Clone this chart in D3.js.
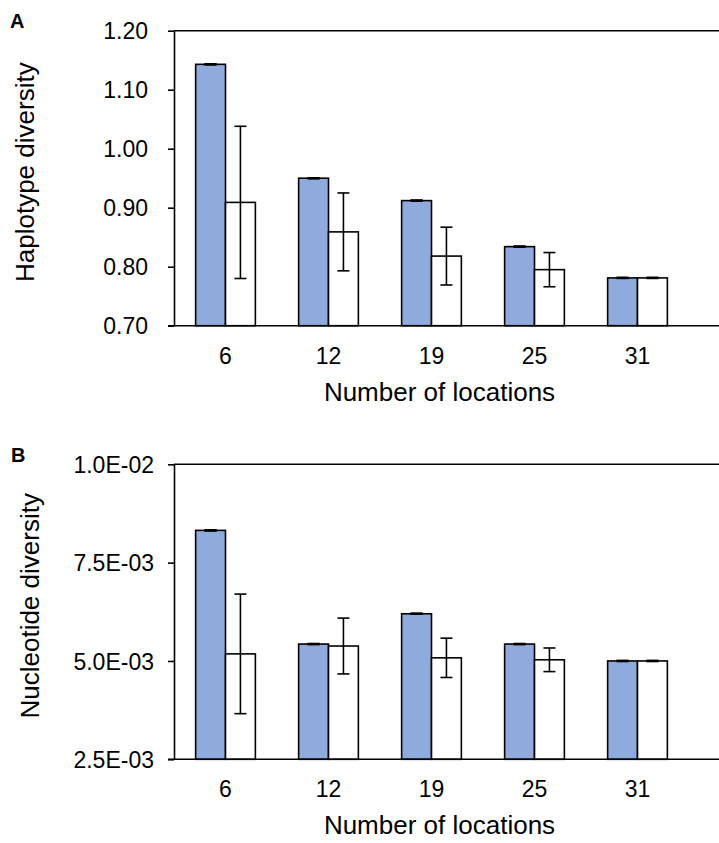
<!doctype html>
<html lang="en">
<head>
<meta charset="utf-8">
<style>
  body { margin: 0; background: #fff; }
  svg text { font-family: "Liberation Sans", Arial, sans-serif; fill: #000; }
</style>
</head>
<body>
<div id="grafico"></div>

<script src="https://d3js.org/d3.v7.min.js"></script>
<script>

// categorias del eje x
var ubicaciones = ["6", "12", "19", "25", "31"];

// panel A: diversidad haplotipica
var haploAzul = [1.143, 0.950, 0.912, 0.834, 0.781];
var haploBlanco = [0.909, 0.859, 0.818, 0.795, 0.781];
var haploError = [0.129, 0.066, 0.049, 0.029, 0];
var haploTicks = [0.70, 0.80, 0.90, 1.00, 1.10, 1.20];

// panel B: diversidad nucleotidica
var nucleoAzul = [0.00832, 0.00543, 0.00620, 0.00543, 0.00500];
var nucleoBlanco = [0.00518, 0.00538, 0.00508, 0.00503, 0.00500];
var nucleoError = [0.00152, 0.00071, 0.00050, 0.00030, 0];
var nucleoTicks = [0.0025, 0.0050, 0.0075, 0.0100];

var ancho = 719, alto = 843;
var izq = 174, der = 689;

var svg = d3.select("#grafico").append("svg").attr("width", ancho).attr("height", alto);

function expo(v) {
  var partes = v.toExponential(1).split("e");
  var e = Number(partes[1]);
  return partes[0] + "E" + (e < 0 ? "-" : "+") + String(Math.abs(e)).padStart(2, "0");
}

function panel(cfg) {
  var g = svg.append("g");

  var x = d3.scaleBand().domain(ubicaciones).range([izq, der]).paddingInner(0.42).paddingOuter(0.21);
  var serie = d3.scaleBand().domain(["azul", "blanco"]).range([0, x.bandwidth()]);
  var y = d3.scaleLinear().domain(cfg.dominio).range([cfg.abajo, cfg.arriba]);

  var datos = ubicaciones.map(function(u, i) {
    return [
      {u: u, s: "azul", v: cfg.azul[i], e: 0},
      {u: u, s: "blanco", v: cfg.blanco[i], e: cfg.error[i]}
    ];
  }).flat();

  // barras
  g.selectAll("rect.barra").data(datos).enter().append("rect")
    .attr("class", "barra")
    .attr("x", function(d) { return x(d.u) + serie(d.s); })
    .attr("y", function(d) { return y(d.v); })
    .attr("width", serie.bandwidth())
    .attr("height", function(d) { return y(cfg.dominio[0]) - y(d.v); })
    .attr("fill", function(d) { return d.s == "azul" ? "#8faadc" : "#ffffff"; })
    .attr("stroke", "#000").attr("stroke-width", 1.6);

  // barras de error
  var cx = function(d) { return x(d.u) + serie(d.s) + serie.bandwidth() / 2; };
  var err = g.selectAll("g.err").data(datos).enter().append("g").attr("class", "err")
    .attr("stroke", "#000").attr("stroke-width", 1.6);
  err.append("line")
    .attr("x1", cx).attr("x2", cx)
    .attr("y1", function(d) { return y(d.v + d.e); })
    .attr("y2", function(d) { return y(d.v - d.e); });
  err.append("line")
    .attr("x1", function(d) { return cx(d) - 6; }).attr("x2", function(d) { return cx(d) + 6; })
    .attr("y1", function(d) { return y(d.v + d.e); }).attr("y2", function(d) { return y(d.v + d.e); })
    .attr("stroke-width", function(d) { return d.e == 0 ? 2.4 : 1.6; });
  err.append("line")
    .attr("x1", function(d) { return cx(d) - 6; }).attr("x2", function(d) { return cx(d) + 6; })
    .attr("y1", function(d) { return y(d.v - d.e); }).attr("y2", function(d) { return y(d.v - d.e); })
    .attr("stroke-width", function(d) { return d.e == 0 ? 2.4 : 1.6; });

  // eje y
  var ejeY = g.append("g").attr("transform", "translate(" + izq + ",0)")
    .call(d3.axisLeft(y).tickValues(cfg.ticks).tickFormat(cfg.formato).tickSize(6).tickSizeOuter(0).tickPadding(cfg.pad));
  ejeY.selectAll("path, line").attr("stroke", "#000").attr("stroke-width", 1.6);
  ejeY.selectAll("text").style("font-size", "23px").attr("dy", ".36em");

  // lineas horizontales arriba y abajo, llegan al borde
  g.append("line").attr("x1", izq).attr("x2", ancho).attr("y1", y(cfg.dominio[1])).attr("y2", y(cfg.dominio[1]))
    .attr("stroke", "#000").attr("stroke-width", 1.6);
  g.append("line").attr("x1", izq - 6).attr("x2", ancho).attr("y1", y(cfg.dominio[0])).attr("y2", y(cfg.dominio[0]))
    .attr("stroke", "#000").attr("stroke-width", 1.6);

  // eje x, solo etiquetas
  var ejeX = g.append("g").attr("transform", "translate(0," + cfg.abajo + ")")
    .call(d3.axisBottom(x).tickSize(0).tickPadding(0));
  ejeX.select(".domain").remove();
  ejeX.selectAll("text").style("font-size", "23px").attr("y", 38).attr("dy", 0);

  g.append("text").attr("x", (izq + der) / 2 + 8).attr("y", cfg.abajo + 75)
    .attr("text-anchor", "middle").style("font-size", "26px").text("Number of locations");

  g.append("text").attr("transform", "translate(" + cfg.tituloX + "," + ((cfg.arriba + cfg.abajo) / 2 - 6) + ") rotate(-90)")
    .attr("text-anchor", "middle").style("font-size", "26px").text(cfg.titulo);

  g.append("text").attr("x", cfg.letraX).attr("y", cfg.letraY)
    .style("font-size", "20px").style("font-weight", "bold").text(cfg.letra);
}

panel({
  azul: haploAzul, blanco: haploBlanco, error: haploError, ticks: haploTicks,
  dominio: [0.70, 1.20], arriba: 30.7, abajo: 325.7,
  formato: d3.format(".2f"), pad: 20,
  titulo: "Haplotype diversity", tituloX: 34,
  letra: "A", letraX: 10, letraY: 28
});

panel({
  azul: nucleoAzul, blanco: nucleoBlanco, error: nucleoError, ticks: nucleoTicks,
  dominio: [0.0025, 0.0100], arriba: 464.3, abajo: 759.3,
  formato: expo, pad: 14,
  titulo: "Nucleotide diversity", tituloX: 39,
  letra: "B", letraX: 11, letraY: 462
});

</script>
</body>
</html>
